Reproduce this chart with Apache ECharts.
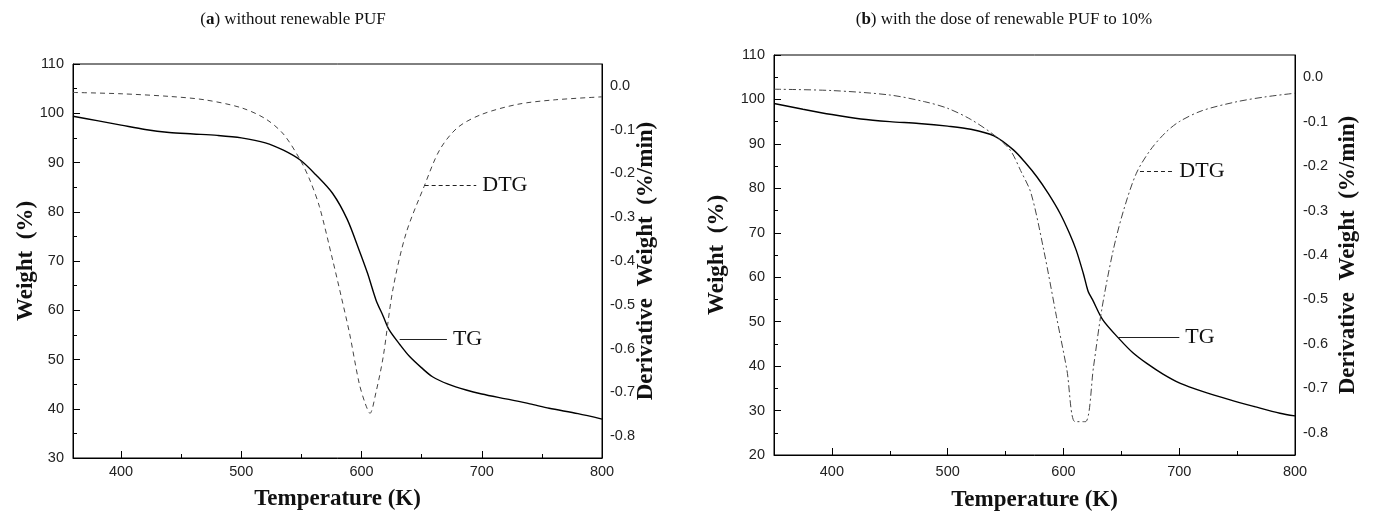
<!DOCTYPE html>
<html>
<head>
<meta charset="utf-8">
<script src="https://cdn.jsdelivr.net/npm/echarts@6/dist/echarts.min.js"></script>
<style>
  html, body { margin: 0; padding: 0; background: #fff; }
  #chart { width: 1377px; height: 512px; }
</style>
</head>
<body>
<div id="chart"></div>
<script>
// (a) without renewable PUF
const tgA = [
  [360, 99.4], [380, 98.5], [400, 97.6], [420, 96.7], [440, 96.1], [460, 95.8],
  [480, 95.5], [500, 95.0], [520, 94.0], [535, 92.5], [549, 90.5], [562, 87.5],
  [576, 83.7], [588, 78.5], [598, 72.2], [605, 67.5], [612, 62.1], [618, 58.8],
  [623, 56.0], [632, 53.0], [640, 50.6], [650, 48.3], [659, 46.5], [672, 45.0],
  [687, 43.8], [700, 43.0], [720, 42.0], [740, 41.0], [756, 40.1], [780, 39.0], [800, 37.9]
];
const dtgA = [
  [360, -0.015], [400, -0.018], [440, -0.024], [470, -0.032], [500, -0.050], [520, -0.075],
  [535, -0.110], [549, -0.169], [557, -0.215], [565, -0.276], [576, -0.398], [583, -0.480],
  [590, -0.565], [598, -0.679], [603, -0.725], [607, -0.748], [612, -0.700], [618, -0.619],
  [626, -0.466], [637, -0.337], [652, -0.230], [665, -0.146], [680, -0.095], [700, -0.065],
  [730, -0.042], [760, -0.032], [800, -0.025]
];

// (b) with the dose of renewable PUF to 10%
const tgB = [
  [350, 99.1], [375, 97.8], [400, 96.6], [425, 95.6], [450, 95.0], [475, 94.6],
  [500, 94.0], [520, 93.3], [540, 91.8], [557, 88.6], [567, 85.8], [577, 82.6],
  [587, 78.8], [597, 74.4], [605, 70.0], [611, 66.1], [617, 61.0], [620, 58.0],
  [621.5, 56.7], [625, 55.0], [634, 50.4], [649, 45.9], [660, 43.0], [672, 40.6],
  [686, 38.2], [701, 36.1], [720, 34.3], [744, 32.4], [765, 30.9], [787, 29.4], [800, 28.8]
];
const dtgB = [
  [350, -0.027], [400, -0.030], [450, -0.040], [480, -0.055], [500, -0.070], [520, -0.095],
  [540, -0.130], [554, -0.164], [563, -0.210], [572, -0.261], [583, -0.389], [594, -0.539],
  [603, -0.659], [610, -0.775], [619, -0.775], [626, -0.651], [633, -0.524], [643, -0.389],
  [652, -0.299], [663, -0.216], [675, -0.164], [688, -0.125], [700, -0.100], [720, -0.075],
  [750, -0.055], [775, -0.044], [800, -0.036]
];

const xMajorTicks = [400, 500, 600, 700, 800];
const xMinorTicks = [400, 450, 500, 550, 600, 650, 700, 750];
const dtgTicks = [0, -0.1, -0.2, -0.3, -0.4, -0.5, -0.6, -0.7, -0.8];

// annotation leaders, in data units: [x0, x1, y]
const tgLeaderA = [631.7, 671, 54.1];
const dtgLeaderA = [652.5, 695.4, -0.226];
const tgLeaderB = [647.4, 700.1, 46.4];
const dtgLeaderB = [666.1, 694.9, -0.2126];

const serif = '"Liberation Serif", "Times New Roman", serif';
const sans = '"Liberation Sans", Arial, sans-serif';

const nameStyle = { fontFamily: serif, fontWeight: 'bold', fontSize: 23, color: '#111' };
const labelStyle = { fontFamily: sans, fontSize: 14.5, color: '#222' };

function leader(l, text, dashed) {
  return {
    silent: true,
    symbol: ['none', 'none'],
    lineStyle: { color: '#222', width: 1, type: dashed ? [4, 3] : 'solid' },
    label: {
      show: true, position: 'end', distance: 6, formatter: text,
      fontFamily: serif, fontSize: 22, color: '#111'
    },
    emphasis: { disabled: true },
    data: [[{ coord: [l[0], l[2]] }, { coord: [l[1], l[2]] }]]
  };
}

function xAxes(g, min, max, gap, labelMargin) {
  return [
    {
      gridIndex: g, type: 'value', min: min, max: max, position: 'bottom',
      name: 'Temperature (K)', nameLocation: 'middle', nameGap: gap, nameMoveOverlap: false,
      nameTextStyle: nameStyle,
      axisLine: { onZero: false, lineStyle: { color: '#000', width: 1 } },
      axisTick: { inside: true, length: 7, customValues: xMajorTicks, lineStyle: { color: '#000' } },
      axisLabel: Object.assign({ customValues: xMajorTicks, margin: labelMargin }, labelStyle),
      splitLine: { show: false }
    },
    {
      gridIndex: g, type: 'value', min: min, max: max, position: 'bottom',
      axisLine: { show: false, onZero: false },
      axisTick: { inside: true, length: 4, customValues: xMinorTicks, lineStyle: { color: '#000' } },
      axisLabel: { show: false },
      splitLine: { show: false }
    }
  ];
}

function yAxes(g, min, nameGapL, nameGapR) {
  return [
    {
      gridIndex: g, type: 'value', min: min, max: 110, interval: 10, position: 'left',
      name: 'Weight  (%)', nameLocation: 'middle', nameRotate: 90, nameGap: nameGapL, nameMoveOverlap: false,
      nameTextStyle: nameStyle,
      axisLine: { show: true, onZero: false, lineStyle: { color: '#000' } },
      axisTick: { inside: true, length: 7, lineStyle: { color: '#000' } },
      minorTick: { show: true, splitNumber: 2, length: 4, lineStyle: { color: '#000' } },
      axisLabel: Object.assign({ margin: 9 }, labelStyle),
      splitLine: { show: false }
    },
    {
      gridIndex: g, type: 'value', min: -0.85, max: 0.05, position: 'right',
      name: 'Derivative  Weight  (%/min)', nameLocation: 'middle', nameRotate: 90, nameGap: nameGapR,
      nameMoveOverlap: false, nameTextStyle: nameStyle,
      axisLine: { show: true, onZero: false, lineStyle: { color: '#000' } },
      axisTick: { show: false, customValues: dtgTicks },
      axisLabel: Object.assign({ customValues: dtgTicks, margin: 8, formatter: v => v.toFixed(1) }, labelStyle),
      splitLine: { show: false }
    }
  ];
}

const chart = echarts.init(document.getElementById('chart'));

chart.setOption({
  backgroundColor: '#fff',
  animation: false,
  title: [
    {
      text: '({b|a}) without renewable PUF', left: 288, top: 6, textAlign: 'center',
      textStyle: { fontFamily: serif, fontSize: 17, fontWeight: 'normal', color: '#111',
        rich: { b: { fontFamily: serif, fontSize: 17, fontWeight: 'bold', color: '#111' } } }
    },
    {
      text: '({b|b}) with the dose of renewable PUF to 10%', left: 999, top: 6, textAlign: 'center',
      textStyle: { fontFamily: serif, fontSize: 17, fontWeight: 'normal', color: '#111',
        rich: { b: { fontFamily: serif, fontSize: 17, fontWeight: 'bold', color: '#111' } } }
    }
  ],
  grid: [
    { left: 73, top: 64, width: 529, height: 394, outerBoundsMode: 'none', containLabel: false,
      show: true, borderColor: '#000', borderWidth: 1, backgroundColor: 'transparent' },
    { left: 774, top: 55, width: 521, height: 400, outerBoundsMode: 'none', containLabel: false,
      show: true, borderColor: '#000', borderWidth: 1, backgroundColor: 'transparent' }
  ],
  xAxis: [].concat(xAxes(0, 360, 800, 30, 6), xAxes(1, 350, 800, 34, 9)),
  yAxis: [].concat(yAxes(0, 30, 35, 33), yAxes(1, 20, 45, 42)),
  series: [
    {
      name: 'TG', type: 'line', xAxisIndex: 0, yAxisIndex: 0, data: tgA,
      showSymbol: false, smooth: 0.3, lineStyle: { color: '#000', width: 1.4 },
      markLine: leader(tgLeaderA, 'TG', false)
    },
    {
      name: 'DTG', type: 'line', xAxisIndex: 0, yAxisIndex: 1, data: dtgA,
      showSymbol: false, smooth: 0.3, lineStyle: { color: '#444', width: 1, type: [5, 4] },
      markLine: leader(dtgLeaderA, 'DTG', true)
    },
    {
      name: 'TG', type: 'line', xAxisIndex: 2, yAxisIndex: 2, data: tgB,
      showSymbol: false, smooth: 0.3, lineStyle: { color: '#000', width: 1.4 },
      markLine: leader(tgLeaderB, 'TG', false)
    },
    {
      name: 'DTG', type: 'line', xAxisIndex: 2, yAxisIndex: 3, data: dtgB,
      showSymbol: false, smooth: 0.3, lineStyle: { color: '#444', width: 1, type: [7, 3, 2, 3] },
      markLine: leader(dtgLeaderB, 'DTG', true)
    }
  ]
});
</script>
</body>
</html>
